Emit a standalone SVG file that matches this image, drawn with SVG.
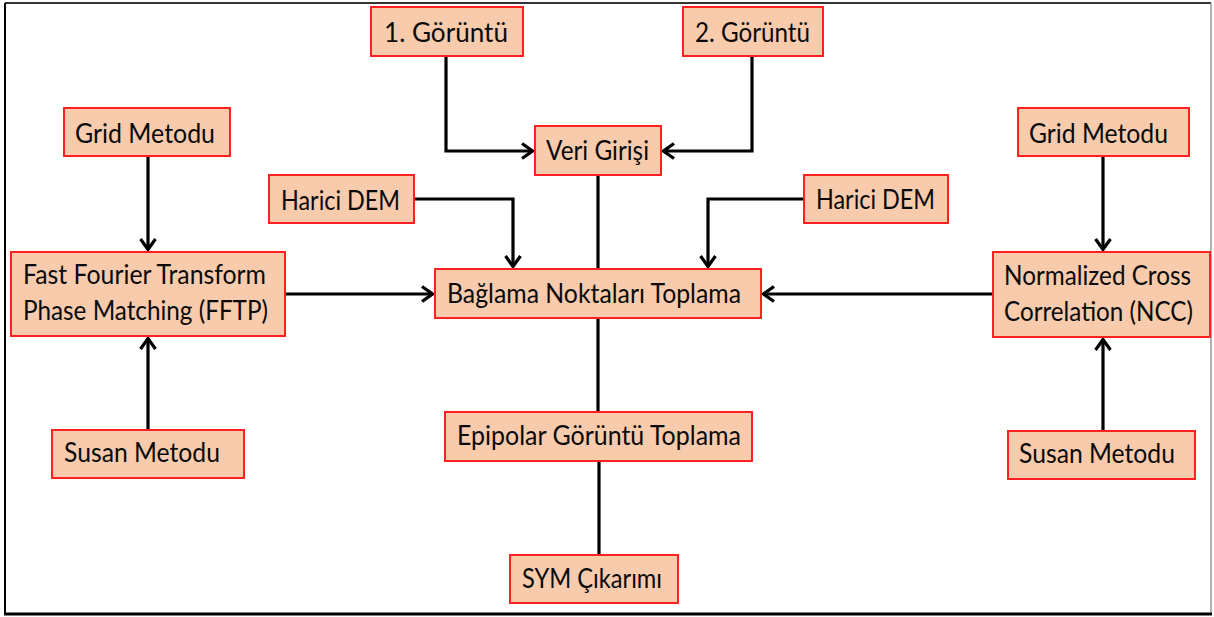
<svg xmlns="http://www.w3.org/2000/svg" width="1214" height="617" viewBox="0 0 1214 617">
<style>
.box{fill:#F8CBAD;stroke:#FF2020;stroke-width:2}
.t{font-family:Lato,"Open Sans","Liberation Sans",sans-serif;font-size:26px;fill:#0a0a0a}
.c{fill:none;stroke:#000;stroke-width:3.2}
</style>
<defs>
<marker id="ah" viewBox="0 0 13 18" refX="12" refY="9" markerWidth="13" markerHeight="18" orient="auto" markerUnits="userSpaceOnUse">
<path d="M1,1.5 L11.5,9 L1,16.5" fill="none" stroke="#000" stroke-width="3.2"/>
</marker>
</defs>
<rect x="0" y="0" width="1214" height="617" fill="#fff"/>
<g id="frame">
<line x1="5" y1="3" x2="1211" y2="3" stroke="#333" stroke-width="2"/>
<line x1="5" y1="3" x2="5" y2="614" stroke="#000" stroke-width="2"/>
<line x1="1211" y1="3" x2="1211" y2="614" stroke="#999" stroke-width="1.5"/>
<line x1="4" y1="614" x2="1212" y2="614" stroke="#000" stroke-width="3"/>
</g>
<g id="connectors">
<path class="c" d="M446,56 V151 H533" marker-end="url(#ah)"/>
<path class="c" d="M752,56 V151 H663" marker-end="url(#ah)"/>
<path class="c" d="M598,175 V269"/>
<path class="c" d="M414,199 H513 V267" marker-end="url(#ah)"/>
<path class="c" d="M804,199 H708 V267" marker-end="url(#ah)"/>
<path class="c" d="M148,156 V250" marker-end="url(#ah)"/>
<path class="c" d="M148,430 V338" marker-end="url(#ah)"/>
<path class="c" d="M285,294 H433" marker-end="url(#ah)"/>
<path class="c" d="M993,294 H763" marker-end="url(#ah)"/>
<path class="c" d="M1103,156 V250" marker-end="url(#ah)"/>
<path class="c" d="M1103,431 V339" marker-end="url(#ah)"/>
<path class="c" d="M598,318 V412"/>
<path class="c" d="M599,461 V555"/>
</g>
<g id="goruntu1"><rect class="box" x="371" y="7" width="152" height="49"/><text class="t" x="384" y="42" textLength="124" lengthAdjust="spacingAndGlyphs">1. Görüntü</text></g>
<g id="goruntu2"><rect class="box" x="683" y="7" width="140" height="49"/><text class="t" x="695" y="42" textLength="115" lengthAdjust="spacingAndGlyphs">2. Görüntü</text></g>
<g id="veri"><rect class="box" x="535" y="126" width="126" height="49"/><text class="t" x="546" y="160" textLength="103" lengthAdjust="spacingAndGlyphs">Veri Girişi</text></g>
<g id="grid-left"><rect class="box" x="64" y="108" width="166" height="48"/><text class="t" x="75" y="143" textLength="140" lengthAdjust="spacingAndGlyphs">Grid Metodu</text></g>
<g id="harici-left"><rect class="box" x="269" y="175" width="145" height="48"/><text class="t" x="281" y="210" textLength="119" lengthAdjust="spacingAndGlyphs">Harici DEM</text></g>
<g id="harici-right"><rect class="box" x="804" y="175" width="144" height="48"/><text class="t" x="816" y="209" textLength="119" lengthAdjust="spacingAndGlyphs">Harici DEM</text></g>
<g id="grid-right"><rect class="box" x="1018" y="108" width="171" height="48"/><text class="t" x="1029" y="143" textLength="139" lengthAdjust="spacingAndGlyphs">Grid Metodu</text></g>
<g id="fftp"><rect class="box" x="11" y="252" width="274" height="84"/><text class="t" x="23" y="284" textLength="243" lengthAdjust="spacingAndGlyphs">Fast Fourier Transform</text><text class="t" x="23" y="320" textLength="245" lengthAdjust="spacingAndGlyphs">Phase Matching (FFTP)</text></g>
<g id="baglama"><rect class="box" x="435" y="269" width="326" height="49"/><text class="t" x="447" y="303" textLength="294" lengthAdjust="spacingAndGlyphs">Bağlama Noktaları Toplama</text></g>
<g id="ncc"><rect class="box" x="993" y="252" width="217" height="85"/><text class="t" x="1004" y="285" textLength="187" lengthAdjust="spacingAndGlyphs">Normalized Cross</text><text class="t" x="1004" y="321" textLength="189" lengthAdjust="spacingAndGlyphs">Correlation (NCC)</text></g>
<g id="susan-left"><rect class="box" x="52" y="430" width="192" height="48"/><text class="t" x="64" y="462" textLength="156" lengthAdjust="spacingAndGlyphs">Susan Metodu</text></g>
<g id="susan-right"><rect class="box" x="1008" y="431" width="187" height="48"/><text class="t" x="1019" y="463" textLength="156" lengthAdjust="spacingAndGlyphs">Susan Metodu</text></g>
<g id="epipolar"><rect class="box" x="445" y="412" width="307" height="49"/><text class="t" x="457" y="445" textLength="284" lengthAdjust="spacingAndGlyphs">Epipolar Görüntü Toplama</text></g>
<g id="sym"><rect class="box" x="510" y="555" width="168" height="48"/><text class="t" x="522" y="588" textLength="140" lengthAdjust="spacingAndGlyphs">SYM Çıkarımı</text></g>
</svg>
